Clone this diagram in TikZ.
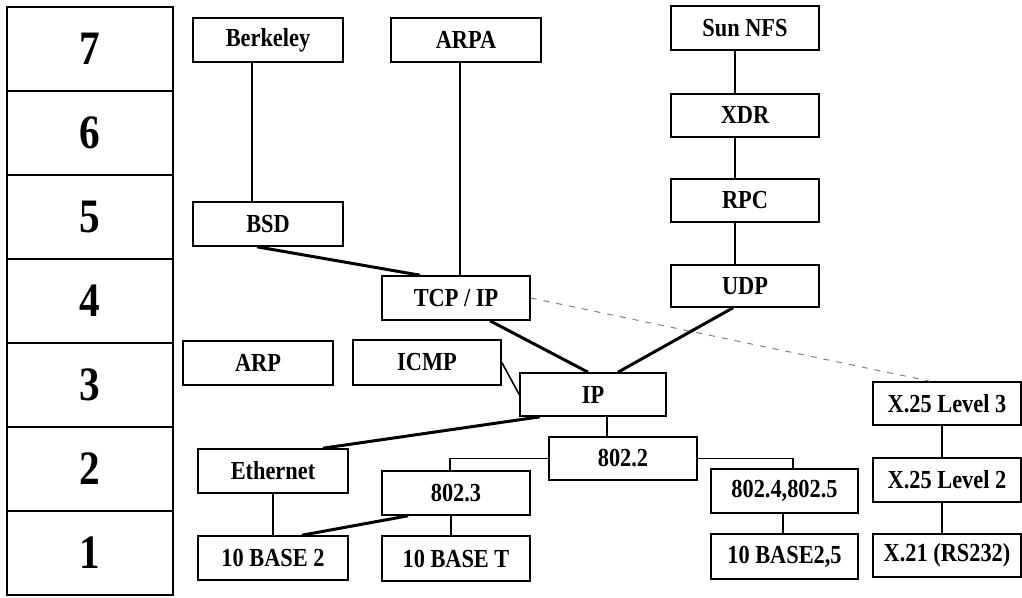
\documentclass[tikz,border=0pt]{standalone}
\usepackage{fontspec}
\setmainfont{Liberation Serif}
\newfontfamily\narrowfont{Liberation Serif}[FakeStretch=0.86]
\begin{document}
\begin{tikzpicture}[x=1pt,y=-1pt,
  box/.style={draw,line width=1.6pt,inner sep=0pt,minimum width=148pt,minimum height=44pt,
    font=\narrowfont\fontsize{26}{29}\selectfont\bfseries},
  layer/.style={draw,line width=1.6pt,inner sep=0pt,minimum width=166pt,minimum height=84pt,
    font=\narrowfont\fontsize{48}{52}\selectfont\bfseries},
  thin/.style={line width=1.6pt},
  thick/.style={line width=3pt},
  dashline/.style={line width=1pt,gray,dash pattern=on 6pt off 7pt}]
\useasboundingbox (0,0) rectangle (1022,597);
% layers
\node[layer] (l7) at (90,49) {7};
\node[layer] (l6) at (90,133) {6};
\node[layer] (l5) at (90,217) {5};
\node[layer] (l4) at (90,301) {4};
\node[layer] (l3) at (90,385) {3};
\node[layer] (l2) at (90,469) {2};
\node[layer] (l1) at (90,553) {1};
% boxes
\node[box,minimum width=150pt] (ber) at (268,40) {Berkeley};
\node[box,minimum width=150pt] (arpa) at (466,40) {ARPA};
\node[box] (nfs) at (745,28) {Sun NFS};
\node[box,minimum height=43pt] (xdr) at (745,115.5) {XDR};
\node[box,minimum height=43pt] (rpc) at (745,200.5) {RPC};
\node[box,minimum height=42pt] (udp) at (745,286) {UDP};
\node[box,minimum width=150pt] (bsd) at (268,224) {BSD};
\node[box] (tcp) at (456,298) {TCP / IP};
\node[box,minimum height=45pt] (icmp) at (427,362.5) {ICMP};
\node[box,minimum width=146pt,minimum height=43pt] (ip) at (593,394.5) {IP};
\node[box,minimum width=150pt] (arp) at (258,363) {ARP};
\node[box,minimum width=150pt] (eth) at (273,471) {Ethernet};
\node[box,minimum width=150pt] (b2) at (273,558) {10 BASE 2};
\node[box,minimum height=43pt] (n8022) at (623,458.5) {802.2};
\node[box] (n8023) at (456,493) {802.3};
\node[box,minimum height=45pt] (bt) at (456,558.5) {10 BASE T};
\node[box,minimum width=147pt] (n8024) at (784.5,491) {802.4,802.5};
\node[box,minimum width=147pt,minimum height=45pt] (b25) at (784.5,556.5) {10 BASE2,5};
\node[box,minimum height=43pt] (x3) at (947,403.5) {X.25 Level 3};
\node[box] (x2) at (947,480) {X.25 Level 2};
\node[box,minimum height=43pt] (x21) at (947,555.5) {X.21 (RS232)};
% connectors
\draw[thin] ([xshift=-16pt]ber.south) -- ([xshift=-16pt]bsd.north);
\draw[thin] ([xshift=-6pt]arpa.south) -- ([xshift=4pt]tcp.north);
\draw[thin] ([xshift=-10pt]nfs.south) -- ([xshift=-10pt]xdr.north);
\draw[thin] ([xshift=-10pt]xdr.south) -- ([xshift=-10pt]rpc.north);
\draw[thin] ([xshift=-10pt]rpc.south) -- ([xshift=-10pt]udp.north);
\draw[thick] ([xshift=-11pt]bsd.south) -- ([xshift=-36pt]tcp.north);
\draw[thick] ([xshift=34pt]tcp.south) -- ([xshift=-5pt]ip.north);
\draw[thick] ([xshift=-12pt]udp.south) -- ([xshift=25pt]ip.north);
\draw[thin] (icmp.east) -- (ip.west);
\draw[thick] ([xshift=-53pt]ip.south) -- ([xshift=50pt]eth.north);
\draw[thin] ([xshift=14pt]ip.south) -- ([xshift=-16pt]n8022.north);
\draw[thin] (n8022.west) -| ([xshift=-6pt]n8023.north);
\draw[thin] (n8022.east) -| ([xshift=8.5pt]n8024.north);
\draw[thin] (eth.south) -- (b2.north);
\draw[thick] ([xshift=-48pt]n8023.south) -- ([xshift=29pt]b2.north);
\draw[thin] ([xshift=-5pt]n8023.south) -- ([xshift=-5pt]bt.north);
\draw[thin] ([xshift=-1.5pt]n8024.south) -- ([xshift=-1.5pt]b25.north);
\draw[thin] ([xshift=-5pt]x3.south) -- ([xshift=-5pt]x2.north);
\draw[thin] ([xshift=-5pt]x2.south) -- ([xshift=-5pt]x21.north);
\draw[dashline] (tcp.east) -- ([xshift=-17pt]x3.north);
\end{tikzpicture}
\end{document}
